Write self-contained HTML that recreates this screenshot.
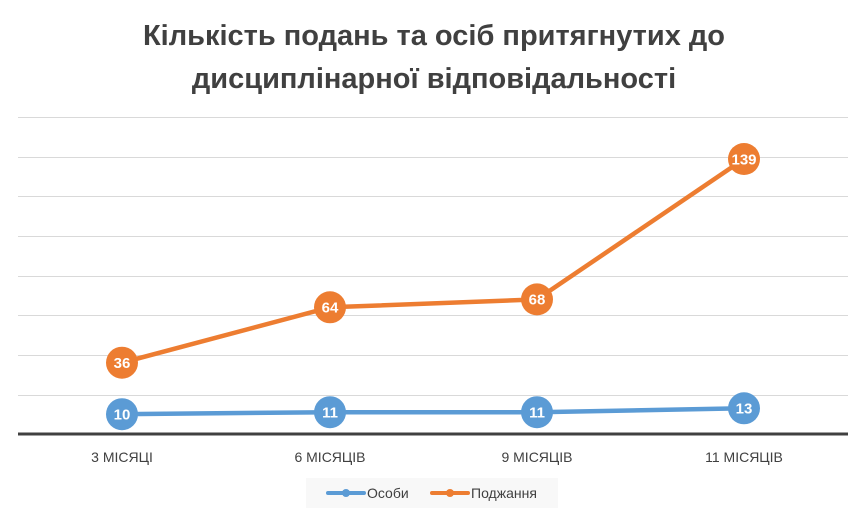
<!DOCTYPE html>
<html><head><meta charset="utf-8"><style>
html,body{margin:0;padding:0;background:#fff;}
svg{display:block;font-family:"Liberation Sans","DejaVu Sans",sans-serif;}
</style></head><body>
<svg width="868" height="518" viewBox="0 0 868 518">
<rect width="868" height="518" fill="#fff"/>
<text x="434" y="45" text-anchor="middle" font-size="29" font-weight="bold" fill="#404040">Кількість подань та осіб притягнутих до</text>
<text x="434" y="88" text-anchor="middle" font-size="29" font-weight="bold" fill="#404040">дисциплінарної відповідальності</text>
<g stroke="#d9d9d9" stroke-width="1">
<line x1="18" x2="848" y1="117.5" y2="117.5"/>
<line x1="18" x2="848" y1="157.5" y2="157.5"/>
<line x1="18" x2="848" y1="196.5" y2="196.5"/>
<line x1="18" x2="848" y1="236.5" y2="236.5"/>
<line x1="18" x2="848" y1="276.5" y2="276.5"/>
<line x1="18" x2="848" y1="315.5" y2="315.5"/>
<line x1="18" x2="848" y1="355.5" y2="355.5"/>
<line x1="18" x2="848" y1="395.5" y2="395.5"/>
</g>
<line x1="18" x2="848" y1="434" y2="434" stroke="#404040" stroke-width="3"/>
<polyline points="122,414.2 330,412.2 537,412.2 744,408.3" fill="none" stroke="#5b9bd5" stroke-width="4.5" stroke-linejoin="round"/>
<polyline points="122,362.7 330,307.3 537,299.4 744,159" fill="none" stroke="#ed7d31" stroke-width="4.5" stroke-linejoin="round"/>
<g font-size="15" font-weight="bold" fill="#fff" text-anchor="middle">
<circle cx="122" cy="414.2" r="16" fill="#5b9bd5"/><text x="122" y="419.5">10</text>
<circle cx="330" cy="412.2" r="16" fill="#5b9bd5"/><text x="330" y="417.5">11</text>
<circle cx="537" cy="412.2" r="16" fill="#5b9bd5"/><text x="537" y="417.5">11</text>
<circle cx="744" cy="408.3" r="16" fill="#5b9bd5"/><text x="744" y="413.5">13</text>
<circle cx="122" cy="362.7" r="16" fill="#ed7d31"/><text x="122" y="368">36</text>
<circle cx="330" cy="307.3" r="16" fill="#ed7d31"/><text x="330" y="312.5">64</text>
<circle cx="537" cy="299.4" r="16" fill="#ed7d31"/><text x="537" y="304.5">68</text>
<circle cx="744" cy="159" r="16" fill="#ed7d31"/><text x="744" y="164.5">139</text>
</g>
<g font-size="14" fill="#404040" text-anchor="middle">
<text x="122" y="462">3 МІСЯЦІ</text>
<text x="330" y="462">6 МІСЯЦІВ</text>
<text x="537" y="462">9 МІСЯЦІВ</text>
<text x="744" y="462">11 МІСЯЦІВ</text>
</g>
<rect x="306" y="478" width="252" height="30" fill="#f8f8f8"/>
<line x1="328" x2="364" y1="493" y2="493" stroke="#5b9bd5" stroke-width="4" stroke-linecap="round"/>
<circle cx="346" cy="493" r="4" fill="#5b9bd5"/>
<text x="367" y="498" font-size="14" fill="#404040">Особи</text>
<line x1="432" x2="468" y1="493" y2="493" stroke="#ed7d31" stroke-width="4" stroke-linecap="round"/>
<circle cx="450" cy="493" r="4" fill="#ed7d31"/>
<text x="471" y="498" font-size="14" fill="#404040">Поджання</text>
</svg>
</body></html>
